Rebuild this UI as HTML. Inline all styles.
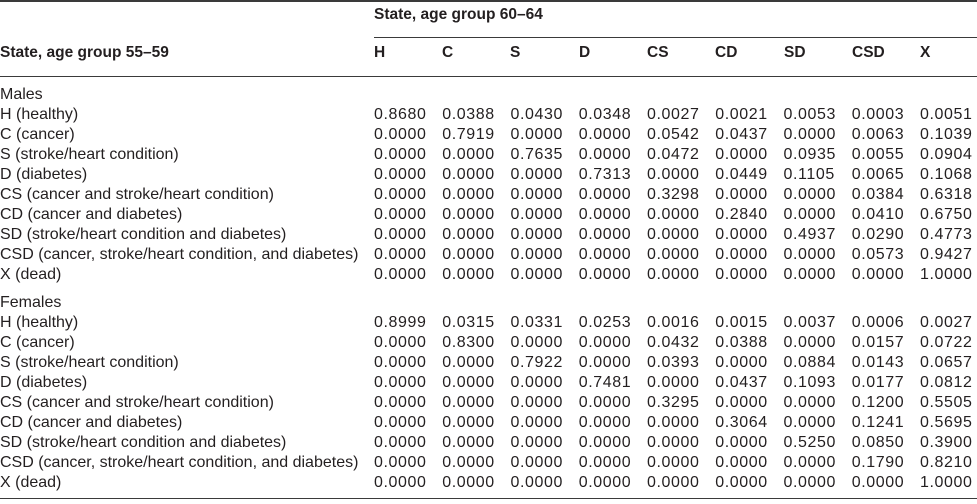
<!DOCTYPE html>
<html>
<head>
<meta charset="utf-8">
<style>
  html, body { margin:0; padding:0; background:#fff; }
  body { width:977px; height:504px; position:relative; overflow:hidden;
         font-family:"Liberation Sans", Arial, sans-serif; color:#231f20; }
  .rule { position:absolute; background:#3a3a3a; }
  .row { position:absolute; left:0; height:20px; line-height:20px; display:flex; white-space:nowrap; font-size:16px; }
  .row .lab { flex:0 0 374px; }
  .row .n { flex:0 0 68.25px; letter-spacing:0.6px; }
  .hdr { position:absolute; font-weight:bold; font-size:15.5px; line-height:20px; white-space:nowrap; }
  .ch { position:absolute; font-weight:bold; font-size:15.5px; line-height:20px; top:43px; }
</style>
</head>
<body>
<div class="rule" style="left:0;top:0;width:977px;height:1.5px;"></div>
<div class="hdr" style="left:374px;top:5px;">State, age group 60–64</div>
<div class="rule" style="left:374px;top:37px;width:603px;height:1px;"></div>
<div class="hdr" style="left:0;top:43px;">State, age group 55–59</div>
<div class="ch" style="left:374px;">H</div>
<div class="ch" style="left:442px;">C</div>
<div class="ch" style="left:510px;">S</div>
<div class="ch" style="left:579px;">D</div>
<div class="ch" style="left:647px;">CS</div>
<div class="ch" style="left:715px;">CD</div>
<div class="ch" style="left:784px;">SD</div>
<div class="ch" style="left:852px;">CSD</div>
<div class="ch" style="left:920px;">X</div>
<div class="rule" style="left:0;top:75.5px;width:977px;height:1.5px;"></div>

<div class="row" style="top:85px;"><span class="lab">Males</span></div>
<div class="row" style="top:105px;"><span class="lab">H (healthy)</span><span class="n">0.8680</span><span class="n">0.0388</span><span class="n">0.0430</span><span class="n">0.0348</span><span class="n">0.0027</span><span class="n">0.0021</span><span class="n">0.0053</span><span class="n">0.0003</span><span class="n">0.0051</span></div>
<div class="row" style="top:125px;"><span class="lab">C (cancer)</span><span class="n">0.0000</span><span class="n">0.7919</span><span class="n">0.0000</span><span class="n">0.0000</span><span class="n">0.0542</span><span class="n">0.0437</span><span class="n">0.0000</span><span class="n">0.0063</span><span class="n">0.1039</span></div>
<div class="row" style="top:145px;"><span class="lab">S (stroke/heart condition)</span><span class="n">0.0000</span><span class="n">0.0000</span><span class="n">0.7635</span><span class="n">0.0000</span><span class="n">0.0472</span><span class="n">0.0000</span><span class="n">0.0935</span><span class="n">0.0055</span><span class="n">0.0904</span></div>
<div class="row" style="top:165px;"><span class="lab">D (diabetes)</span><span class="n">0.0000</span><span class="n">0.0000</span><span class="n">0.0000</span><span class="n">0.7313</span><span class="n">0.0000</span><span class="n">0.0449</span><span class="n">0.1105</span><span class="n">0.0065</span><span class="n">0.1068</span></div>
<div class="row" style="top:185px;"><span class="lab">CS (cancer and stroke/heart condition)</span><span class="n">0.0000</span><span class="n">0.0000</span><span class="n">0.0000</span><span class="n">0.0000</span><span class="n">0.3298</span><span class="n">0.0000</span><span class="n">0.0000</span><span class="n">0.0384</span><span class="n">0.6318</span></div>
<div class="row" style="top:205px;"><span class="lab">CD (cancer and diabetes)</span><span class="n">0.0000</span><span class="n">0.0000</span><span class="n">0.0000</span><span class="n">0.0000</span><span class="n">0.0000</span><span class="n">0.2840</span><span class="n">0.0000</span><span class="n">0.0410</span><span class="n">0.6750</span></div>
<div class="row" style="top:225px;"><span class="lab">SD (stroke/heart condition and diabetes)</span><span class="n">0.0000</span><span class="n">0.0000</span><span class="n">0.0000</span><span class="n">0.0000</span><span class="n">0.0000</span><span class="n">0.0000</span><span class="n">0.4937</span><span class="n">0.0290</span><span class="n">0.4773</span></div>
<div class="row" style="top:245px;"><span class="lab">CSD (cancer, stroke/heart condition, and diabetes)</span><span class="n">0.0000</span><span class="n">0.0000</span><span class="n">0.0000</span><span class="n">0.0000</span><span class="n">0.0000</span><span class="n">0.0000</span><span class="n">0.0000</span><span class="n">0.0573</span><span class="n">0.9427</span></div>
<div class="row" style="top:265px;"><span class="lab">X (dead)</span><span class="n">0.0000</span><span class="n">0.0000</span><span class="n">0.0000</span><span class="n">0.0000</span><span class="n">0.0000</span><span class="n">0.0000</span><span class="n">0.0000</span><span class="n">0.0000</span><span class="n">1.0000</span></div>

<div class="row" style="top:293px;"><span class="lab">Females</span></div>
<div class="row" style="top:313px;"><span class="lab">H (healthy)</span><span class="n">0.8999</span><span class="n">0.0315</span><span class="n">0.0331</span><span class="n">0.0253</span><span class="n">0.0016</span><span class="n">0.0015</span><span class="n">0.0037</span><span class="n">0.0006</span><span class="n">0.0027</span></div>
<div class="row" style="top:333px;"><span class="lab">C (cancer)</span><span class="n">0.0000</span><span class="n">0.8300</span><span class="n">0.0000</span><span class="n">0.0000</span><span class="n">0.0432</span><span class="n">0.0388</span><span class="n">0.0000</span><span class="n">0.0157</span><span class="n">0.0722</span></div>
<div class="row" style="top:353px;"><span class="lab">S (stroke/heart condition)</span><span class="n">0.0000</span><span class="n">0.0000</span><span class="n">0.7922</span><span class="n">0.0000</span><span class="n">0.0393</span><span class="n">0.0000</span><span class="n">0.0884</span><span class="n">0.0143</span><span class="n">0.0657</span></div>
<div class="row" style="top:373px;"><span class="lab">D (diabetes)</span><span class="n">0.0000</span><span class="n">0.0000</span><span class="n">0.0000</span><span class="n">0.7481</span><span class="n">0.0000</span><span class="n">0.0437</span><span class="n">0.1093</span><span class="n">0.0177</span><span class="n">0.0812</span></div>
<div class="row" style="top:393px;"><span class="lab">CS (cancer and stroke/heart condition)</span><span class="n">0.0000</span><span class="n">0.0000</span><span class="n">0.0000</span><span class="n">0.0000</span><span class="n">0.3295</span><span class="n">0.0000</span><span class="n">0.0000</span><span class="n">0.1200</span><span class="n">0.5505</span></div>
<div class="row" style="top:413px;"><span class="lab">CD (cancer and diabetes)</span><span class="n">0.0000</span><span class="n">0.0000</span><span class="n">0.0000</span><span class="n">0.0000</span><span class="n">0.0000</span><span class="n">0.3064</span><span class="n">0.0000</span><span class="n">0.1241</span><span class="n">0.5695</span></div>
<div class="row" style="top:433px;"><span class="lab">SD (stroke/heart condition and diabetes)</span><span class="n">0.0000</span><span class="n">0.0000</span><span class="n">0.0000</span><span class="n">0.0000</span><span class="n">0.0000</span><span class="n">0.0000</span><span class="n">0.5250</span><span class="n">0.0850</span><span class="n">0.3900</span></div>
<div class="row" style="top:453px;"><span class="lab">CSD (cancer, stroke/heart condition, and diabetes)</span><span class="n">0.0000</span><span class="n">0.0000</span><span class="n">0.0000</span><span class="n">0.0000</span><span class="n">0.0000</span><span class="n">0.0000</span><span class="n">0.0000</span><span class="n">0.1790</span><span class="n">0.8210</span></div>
<div class="row" style="top:473px;"><span class="lab">X (dead)</span><span class="n">0.0000</span><span class="n">0.0000</span><span class="n">0.0000</span><span class="n">0.0000</span><span class="n">0.0000</span><span class="n">0.0000</span><span class="n">0.0000</span><span class="n">0.0000</span><span class="n">1.0000</span></div>

<div class="rule" style="left:0;top:497.5px;width:977px;height:1.5px;"></div>
</body>
</html>
